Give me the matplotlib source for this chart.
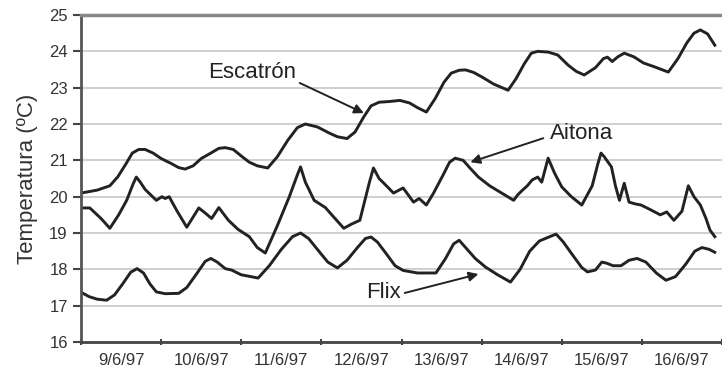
import matplotlib.pyplot as plt
import numpy as np

plt.rcParams['font.family'] = ['Liberation Sans', 'DejaVu Sans']

# time in days of June 1997 (9.0 = 9/6/97 00:00)
esc_t = [9.0, 9.2, 9.36, 9.46, 9.56, 9.64, 9.72, 9.8, 9.9, 10.0, 10.12, 10.22, 10.3, 10.4,
         10.5, 10.62, 10.72, 10.8, 10.9, 11.0, 11.1, 11.2, 11.33, 11.45, 11.58, 11.7, 11.8,
         11.95, 12.1, 12.2, 12.32, 12.42, 12.53, 12.62, 12.72, 12.85, 12.98, 13.1, 13.2,
         13.31, 13.42, 13.53, 13.62, 13.72, 13.8, 13.9, 14.0, 14.15, 14.33, 14.43, 14.53,
         14.62, 14.7, 14.83, 14.95, 15.08, 15.18, 15.28, 15.42, 15.52, 15.57, 15.63, 15.7,
         15.78, 15.9, 16.02, 16.15, 16.33, 16.45, 16.56, 16.65, 16.73, 16.82, 16.91]
esc_v = [20.1, 20.18, 20.3, 20.55, 20.9, 21.2, 21.3, 21.3, 21.2, 21.05, 20.92, 20.8, 20.76, 20.85,
         21.05, 21.2, 21.33, 21.35, 21.3, 21.12, 20.95, 20.85, 20.79, 21.1, 21.55, 21.9, 22.0,
         21.92, 21.75, 21.65, 21.6, 21.78, 22.2, 22.5, 22.6, 22.62, 22.65, 22.58, 22.45,
         22.33, 22.7, 23.15, 23.4, 23.48, 23.49, 23.42, 23.3, 23.1, 22.93, 23.25, 23.65,
         23.95, 24.0, 23.98, 23.9, 23.62, 23.45, 23.35, 23.55, 23.8, 23.84, 23.72, 23.85,
         23.95, 23.85, 23.68, 23.58, 23.43, 23.8, 24.23, 24.5, 24.59, 24.48, 24.17]

ait_t = [9.0, 9.11, 9.25, 9.36, 9.47, 9.57, 9.65, 9.69, 9.74, 9.8, 9.94, 10.01, 10.05, 10.1,
         10.2, 10.32, 10.47, 10.55, 10.63, 10.72, 10.84, 10.96, 11.1, 11.2, 11.3, 11.45,
         11.6, 11.7, 11.74, 11.8, 11.91, 12.05, 12.15, 12.28, 12.38, 12.48, 12.6, 12.65,
         12.72, 12.78, 12.9, 13.02, 13.15, 13.22, 13.31, 13.4, 13.52, 13.6, 13.67, 13.77,
         13.85, 13.96, 14.1, 14.25, 14.4, 14.45, 14.51, 14.57, 14.63, 14.7, 14.75, 14.83,
         14.91, 15.0, 15.12, 15.25, 15.38, 15.45, 15.49, 15.53, 15.62, 15.67, 15.72, 15.78,
         15.84, 15.92, 15.99, 16.1, 16.23, 16.31, 16.4, 16.5, 16.58, 16.65, 16.73, 16.8,
         16.85, 16.91]
ait_v = [19.69, 19.69, 19.4, 19.13, 19.5, 19.9, 20.35, 20.54, 20.4, 20.2, 19.9, 20.0, 19.95,
         20.0, 19.6, 19.16, 19.69, 19.55, 19.4, 19.7, 19.35, 19.1, 18.9, 18.6, 18.45, 19.2,
         20.0, 20.6, 20.82, 20.4, 19.9, 19.7, 19.45, 19.13, 19.25, 19.35, 20.4, 20.79,
         20.5, 20.37, 20.1, 20.24, 19.85, 19.95, 19.77, 20.1, 20.6, 20.95, 21.06, 21.0,
         20.8, 20.54, 20.3, 20.1, 19.9, 20.05, 20.18, 20.3, 20.46, 20.54, 20.4, 21.06,
         20.65, 20.27, 20.0, 19.77, 20.3, 20.9, 21.2, 21.1, 20.82, 20.3, 19.9, 20.37,
         19.85, 19.8, 19.77, 19.65, 19.5, 19.58, 19.35, 19.6, 20.3, 20.0, 19.77, 19.4,
         19.08, 18.9]

flx_t = [9.0, 9.1, 9.2, 9.32, 9.42, 9.52, 9.62, 9.7, 9.78, 9.86, 9.94, 10.05, 10.22, 10.32,
         10.45, 10.55, 10.62, 10.7, 10.8, 10.88, 11.0, 11.12, 11.21, 11.35, 11.5, 11.64,
         11.74, 11.84, 11.95, 12.08, 12.2, 12.32, 12.45, 12.55, 12.62, 12.7, 12.82, 12.92,
         13.02, 13.2, 13.43, 13.55, 13.65, 13.72, 13.8, 13.92, 14.05, 14.2, 14.36, 14.48,
         14.6, 14.72, 14.85, 14.93, 15.02, 15.15, 15.25, 15.32, 15.42, 15.5, 15.56, 15.64,
         15.74, 15.84, 15.94, 16.05, 16.18, 16.3, 16.42, 16.55, 16.66, 16.75, 16.84, 16.91]
flx_v = [17.37, 17.25, 17.18, 17.15, 17.3, 17.6, 17.92, 18.02, 17.9, 17.6, 17.38, 17.33, 17.34,
         17.5, 17.9, 18.22, 18.3, 18.2, 18.02, 17.98, 17.85, 17.8, 17.76, 18.1, 18.55, 18.9,
         19.0, 18.85, 18.55, 18.2, 18.04, 18.25, 18.6, 18.85, 18.89, 18.75, 18.4, 18.1,
         17.97, 17.9, 17.9, 18.3, 18.7, 18.8, 18.6, 18.3, 18.06, 17.85, 17.65, 18.0,
         18.5, 18.78, 18.9, 18.97, 18.75, 18.35, 18.05, 17.93, 17.98, 18.2, 18.17, 18.1,
         18.1, 18.25, 18.3, 18.2, 17.9, 17.7, 17.8, 18.15, 18.5, 18.6, 18.55, 18.47]

days = [9, 10, 11, 12, 13, 14, 15, 16]
day_labels = ['9/6/97', '10/6/97', '11/6/97', '12/6/97', '13/6/97', '14/6/97', '15/6/97', '16/6/97']

fig = plt.figure(figsize=(7.22, 3.72), dpi=100)
ax = fig.add_axes([0.1122, 0.0806, 0.8878, 0.879])

for yy in range(17, 25):
    ax.axhline(yy, color='#cfcfcf', lw=1.4, zorder=0)

ax.plot(esc_t, esc_v, color='#222222', lw=2.1)
ax.plot(ait_t, ait_v, color='#222222', lw=2.1)
ax.plot(flx_t, flx_v, color='#222222', lw=2.1)

ax.set_xlim(9.0, 16.91)
ax.set_ylim(16, 25)
ax.set_yticks(range(16, 26))
ax.set_xticks(days + [17])
ax.set_xticklabels([])
ax.set_xticks([d + 0.5 for d in days], minor=True)
ax.set_xticklabels(day_labels, minor=True)
ax.tick_params(axis='x', which='minor', length=0, pad=8, labelsize=12, labelcolor='#333333')
ax.tick_params(axis='x', which='major', length=4, width=1.5, direction='inout', color='#444444')
ax.tick_params(axis='y', length=6, width=1.5, labelsize=12, labelcolor='#333333', color='#444444')

ax.spines['right'].set_visible(False)
ax.spines['top'].set_color('#888888')
ax.spines['top'].set_linewidth(2.5)
ax.spines['left'].set_color('#555555')
ax.spines['left'].set_linewidth(2)
ax.spines['bottom'].set_color('#444444')
ax.spines['bottom'].set_linewidth(2)

ax.set_ylabel('Temperatura (ºC)', fontsize=16, color='#333333', labelpad=8)

arrow = dict(arrowstyle='-|>', color='#222222', lw=1.4, mutation_scale=14, shrinkA=0, shrinkB=0)
ax.text(11.14, 23.43, 'Escatrón', fontsize=16, color='#222222', ha='center', va='center')
ax.annotate('', xy=(12.53, 22.3), xytext=(11.73, 23.13), arrowprops=arrow)
ax.text(15.25, 21.75, 'Aitona', fontsize=16, color='#222222', ha='center', va='center')
ax.annotate('', xy=(13.86, 20.95), xytext=(14.77, 21.61), arrowprops=arrow)
ax.text(12.78, 17.35, 'Flix', fontsize=16, color='#222222', ha='center', va='center')
ax.annotate('', xy=(13.96, 17.87), xytext=(13.04, 17.35), arrowprops=arrow)

fig.savefig('out.png', dpi=100)
